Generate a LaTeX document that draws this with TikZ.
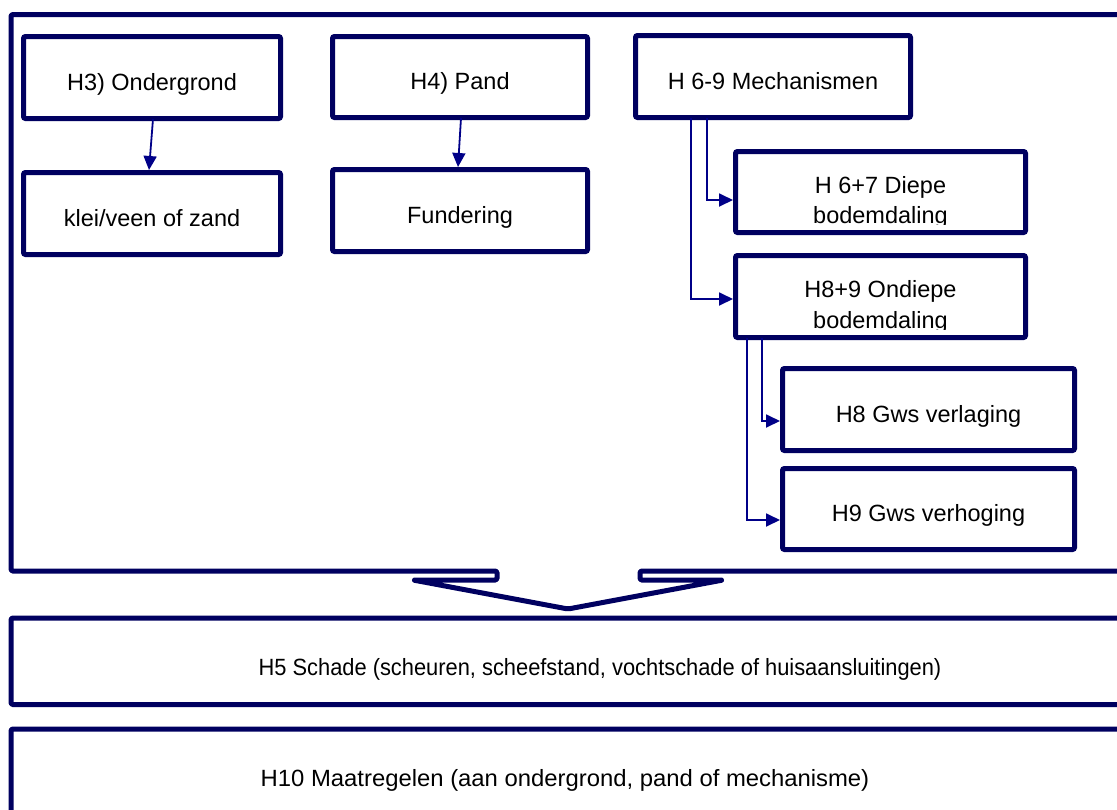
\documentclass[tikz,border=0pt]{standalone}
\usepackage{fontspec}
\setmainfont{Liberation Sans}
\usetikzlibrary{arrows.meta,calc}
\definecolor{framecol}{RGB}{0,0,96}
\definecolor{conncol}{RGB}{0,0,136}
\begin{document}
\begin{tikzpicture}[x=1pt,y=-1pt,
  every node/.style={font=\fontsize{23.5}{27}\selectfont, text=black},
  boxstyle/.style={draw=framecol, line width=5pt, rounded corners=2pt, fill=white,
    text height=25pt, text depth=0pt, inner sep=0pt},
  plainline/.style={draw=framecol, line width=5pt, line join=round, rounded corners=1.5pt},
  conn/.style={draw=conncol, line width=1.8pt, -{Triangle[length=14pt,width=13pt]}},
  lbl/.style={anchor=base, inner sep=0pt}
]
\useasboundingbox (0,0) rectangle (1117,809);
\clip (0,0) rectangle (1117,809);

% outer frame with downward arrow notch
\draw[plainline] (11,14.5) -- (1140,14.5) -- (1140,571) -- (640,571) -- (640,580)
  -- (723,580) -- (568,609) -- (413,580) -- (497,580) -- (497,571) -- (11,571) -- cycle;

% bottom wide boxes
\draw[plainline] (11,618) rectangle (1140,704.5);
\node[lbl] (h5) at (600,675) {\scalebox{0.93}[1]{H5 Schade (scheuren, scheefstand, vochtschade of huisaansluitingen)}};
\draw[plainline] (11,729) rectangle (1140,850);
\node[lbl] (h10) at (565,786) {\scalebox{1.015}[1]{H10 Maatregelen (aan ondergrond, pand of mechanisme)}};

% upper boxes
\node[boxstyle, minimum width=257pt, minimum height=82pt] (h3) at (152,77.5) {H3) Ondergrond};
\node[boxstyle, minimum width=257pt, minimum height=82pt] (klei) at (152,213.5) {klei/veen of zand};
\node[boxstyle, minimum width=255pt, minimum height=81pt] (h4) at (460,77) {H4) Pand};
\node[boxstyle, minimum width=255pt, minimum height=82pt] (fund) at (460,210.5) {Fundering};
\node[boxstyle, minimum width=275pt, minimum height=82pt] (mech) at (773,76.5) {H 6-9 Mechanismen};
\node[boxstyle, minimum width=290pt, minimum height=81pt] (diepe) at (880.5,192) {};
\node[boxstyle, minimum width=290pt, minimum height=82pt] (ondiepe) at (880.5,296.5) {};
\node[boxstyle, minimum width=292pt, minimum height=82pt] (gws8) at (928.5,409.5) {H8 Gws verlaging};
\node[boxstyle, minimum width=292pt, minimum height=81pt] (gws9) at (928.5,509) {H9 Gws verhoging};

% clipped two-line texts
\begin{scope}
  \clip ($(diepe.north west)+(3,3)$) rectangle ($(diepe.south east)+(-3,-10.5)$);
  \node[lbl] (diepeA) at (880.5,193) {H 6+7 Diepe};
  \node[lbl] (diepeB) at (880.5,223) {bodemdaling};
\end{scope}
\begin{scope}
  \clip ($(ondiepe.north west)+(3,3)$) rectangle ($(ondiepe.south east)+(-3,-11)$);
  \node[lbl] (ondiepeA) at (880.5,297) {H8+9 Ondiepe};
  \node[lbl] (ondiepeB) at (880.5,328) {bodemdaling};
\end{scope}

% connectors
\draw[conn] ($(h3.south)+(1,-2)$) -- ($(klei.north)+(-3,0)$);
\draw[conn] ($(h4.south)+(1,-2)$) -- ($(fund.north)+(-2,0)$);
\draw[conn] ($(mech.south west)+(58,-2)$) |- ($(ondiepe.west)+(0,2.5)$);
\draw[conn] ($(mech.south west)+(74,-2)$) |- ($(diepe.west)+(0,8)$);
\draw[conn] ($(ondiepe.south west)+(14,-2)$) |- ($(gws9.west)+(0,11)$);
\draw[conn] ($(ondiepe.south west)+(29,-2)$) |- ($(gws8.west)+(0,11.5)$);
\end{tikzpicture}
\end{document}
